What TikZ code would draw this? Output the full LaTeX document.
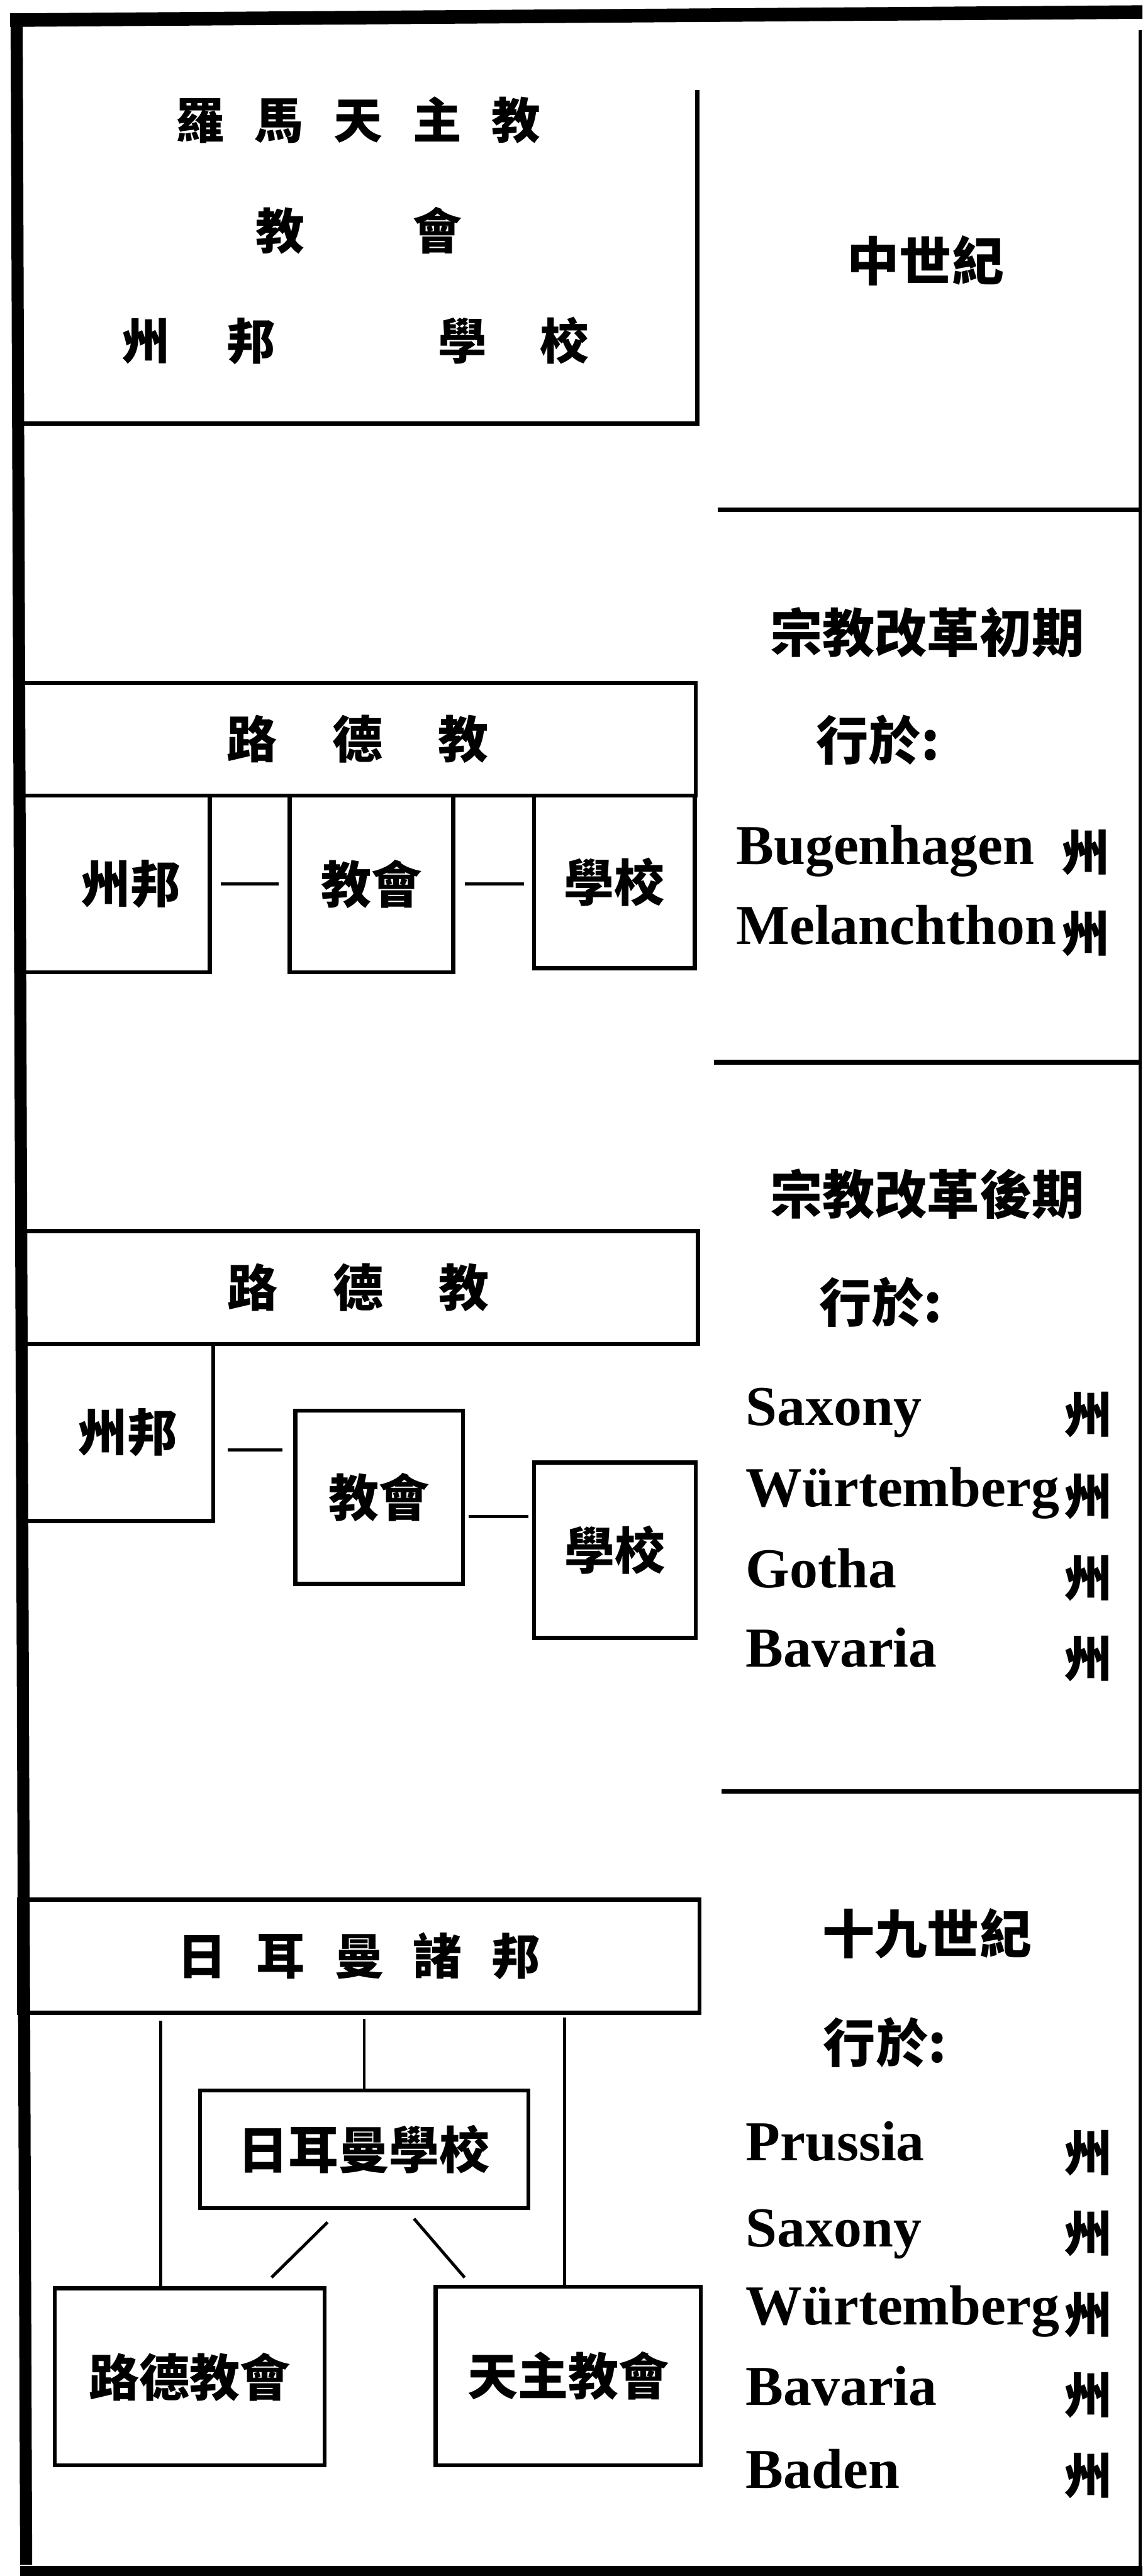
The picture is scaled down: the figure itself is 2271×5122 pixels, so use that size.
\documentclass[tikz,border=0pt]{standalone}
\usepackage{fontspec}
\setmainfont{Liberation Serif}
\newfontfamily\cjkfont{Noto Sans CJK TC}
\newcommand\cjkbig{\cjkfont\bfseries\fontsize{27.6pt}{30pt}\selectfont}
\newcommand\cjkbox{\cjkfont\bfseries\fontsize{28.45pt}{30pt}\selectfont}
\newcommand\cjkhead{\cjkfont\bfseries\fontsize{29.6pt}{32pt}\selectfont}
\newcommand\latinrow{\bfseries\fontsize{31.9pt}{34pt}\selectfont}
\begin{document}
\begin{tikzpicture}[x=0.01cm,y=-0.01cm,
  boxline/.style={draw, line width=0.08cm, inner sep=0pt},
  rule/.style={line width=0.09cm},
  conn/.style={line width=0.06cm},
  bigtxt/.style={inner sep=0pt, font=\cjkbig},
  boxtxt/.style={inner sep=0pt, font=\cjkbox},
  headtxt/.style={inner sep=0pt, font=\cjkhead},
  latin/.style={inner sep=0pt, anchor=base west, font=\latinrow},
  zhou/.style={inner sep=0pt, font=\cjkbig}]
\useasboundingbox (0,0) rectangle (2271,5122);
% frame
\draw[line width=0.27cm] (20,40) -- (2271,24);
\draw[line width=0.24cm] (33,28) -- (52,5100);
\draw[line width=0.2cm] (40,5112) -- (2271,5112);
\draw[line width=0.06cm] (2266,60) -- (2266,5105);
% section dividers (right column)
\draw[rule] (1427,1014) -- (2266,1014);
\draw[rule] (1419,2112) -- (2266,2112);
\draw[rule] (1434,3562) -- (2266,3562);

% ---------- section 1
\draw[rule] (1386,179) -- (1386,842) -- (45,842);
\node[bigtxt] (r1a) at (712,239) {羅\hspace{0.60cm}馬\hspace{0.60cm}天\hspace{0.60cm}主\hspace{0.60cm}教};
\node[bigtxt] (r1b) at (713,459) {教\hspace{2.15cm}會};
\node[bigtxt] (r1c) at (706,678) {州\hspace{1.13cm}邦\hspace{3.23cm}學\hspace{1.06cm}校};
\node[headtxt] (h1) at (1840,518) {中世紀};

% ---------- section 2
\node[headtxt] (h2) at (1843,1258) {宗教改革初期};
\node[headtxt, anchor=west] (x2) at (1622,1472) {行於:};
\node[boxline, minimum width=13.45cm, minimum height=2.24cm, font=\cjkbox] (ld2) at (710.5,1470) {路\hspace{1.10cm}德\hspace{1.10cm}教};
\node[boxline, minimum width=3.79cm, minimum height=3.51cm, font=\cjkbox] (zb2) at (227.5,1757.5) {\hspace{0.64cm}州邦};
\node[boxline, minimum width=3.25cm, minimum height=3.51cm, font=\cjkbox] (jh2) at (738.5,1757.5) {教會};
\node[boxline, minimum width=3.19cm, minimum height=3.43cm, font=\cjkbox] (xx2) at (1221.5,1753.5) {學校};
\draw[conn, shorten <=0.18cm, shorten >=0.18cm] (zb2.east) -- (jh2.west);
\draw[conn, shorten <=0.19cm, shorten >=0.16cm] (jh2.east) -- (jh2.east -| xx2.west);
\node[latin] (b2a) at (1463,1719) {Bugenhagen};
\node[zhou] (b2az) at (2158,1695) {州};
\node[latin] (b2b) at (1463,1877) {Melanchthon};
\node[zhou] (b2bz) at (2158,1856) {州};

% ---------- section 3
\node[headtxt] (h3) at (1843,2375) {宗教改革後期};
\node[headtxt, anchor=west] (x3) at (1628,2589) {行於:};
\node[boxline, minimum width=13.49cm, minimum height=2.24cm, font=\cjkbox] (ld3) at (712.5,2560) {路\hspace{1.10cm}德\hspace{1.10cm}教};
\node[boxline, minimum width=3.86cm, minimum height=3.52cm, font=\cjkbox] (zb3) at (231,2848) {\hspace{0.44cm}州邦};
\node[boxline, minimum width=3.33cm, minimum height=3.44cm, font=\cjkbox] (jh3) at (753.5,2977) {教會};
\node[boxline, minimum width=3.21cm, minimum height=3.49cm, font=\cjkbox] (xx3) at (1222.5,3082.5) {學校};
\coordinate (d3a) at (0,2883);
\coordinate (d3b) at (0,3016);
\draw[conn, shorten <=0.25cm, shorten >=0.22cm] (zb3.east |- d3a) -- (jh3.west |- d3a);
\draw[conn, shorten <=0.07cm, shorten >=0.08cm] (jh3.east |- d3b) -- (xx3.west |- d3b);
\node[latin] (c3a) at (1482,2834) {Saxony};
\node[zhou] (c3az) at (2162,2813) {州};
\node[latin] (c3b) at (1482,2995) {Würtemberg};
\node[zhou] (c3bz) at (2162,2975) {州};
\node[latin] (c3c) at (1482,3157) {Gotha};
\node[zhou] (c3cz) at (2162,3138) {州};
\node[latin] (c3d) at (1482,3315) {Bavaria};
\node[zhou] (c3dz) at (2162,3298) {州};

% ---------- section 4
\node[headtxt] (h4) at (1843,3844) {十九世紀};
\node[headtxt, anchor=west] (x4) at (1636,4061) {行於:};
\node[boxline, minimum width=13.52cm, minimum height=2.25cm, font=\cjkbig] (gz) at (714,3889.5) {日\hspace{0.59cm}耳\hspace{0.59cm}曼\hspace{0.59cm}諸\hspace{0.59cm}邦};
\node[boxline, minimum width=6.52cm, minimum height=2.33cm, font=\cjkbox] (gx) at (724,4273.5) {日耳曼學校};
\node[boxline, minimum width=5.36cm, minimum height=3.52cm, font=\cjkbox] (lj) at (377,4726) {路德教會};
\node[boxline, minimum width=5.27cm, minimum height=3.55cm, font=\cjkbox] (tj) at (1129.5,4724.5) {天主教會};
\coordinate (v1) at (319,0);
\coordinate (v3) at (1122,0);
\coordinate (c1) at (676,0);
\coordinate (c2) at (522,0);
\coordinate (c3) at (808,0);
\coordinate (c4) at (936,0);
\draw[conn, shorten <=0.12cm] (gz.south -| v1) -- (lj.north -| v1);
\draw[conn, shorten <=0.08cm] (gz.south -| gx.north) -- (gx.north);
\draw[conn, shorten <=0.06cm] (gz.south -| v3) -- (tj.north -| v3);
\draw[conn, shorten <=0.35cm, shorten >=0.25cm] (gx.south -| c1) -- (lj.north -| c2);
\draw[conn, shorten <=0.23cm, shorten >=0.19cm] (gx.south -| c3) -- (tj.north -| c4);
\node[latin] (p4a) at (1482,4296) {Prussia};
\node[zhou] (p4az) at (2162,4281) {州};
\node[latin] (p4b) at (1482,4467) {Saxony};
\node[zhou] (p4bz) at (2162,4441) {州};
\node[latin] (p4c) at (1482,4622) {Würtemberg};
\node[zhou] (p4cz) at (2162,4602) {州};
\node[latin] (p4d) at (1482,4783) {Bavaria};
\node[zhou] (p4dz) at (2162,4762) {州};
\node[latin] (p4e) at (1482,4948) {Baden};
\node[zhou] (p4ez) at (2162,4922) {州};
\end{tikzpicture}
\end{document}
